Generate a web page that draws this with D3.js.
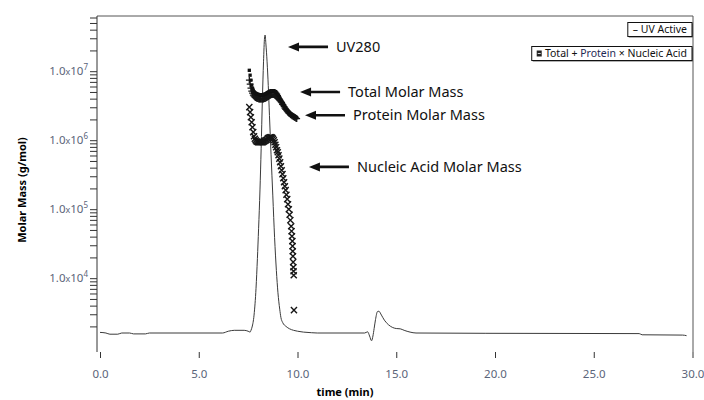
<!DOCTYPE html>
<html>
<head>
<meta charset="utf-8">
<script src="https://cdn.jsdelivr.net/npm/d3@7"></script>
<style>
    body { margin: 0; background: #fff; }
    svg { display: block; font-family: "Noto Sans", "Open Sans", sans-serif; }
</style>
</head>
<body>
<svg id="chart" width="704" height="400"></svg>
<script>
// UV trace (arbitrary units, 100 = top of the UV280 peak)
const uvTime = [0.0, 0.3, 0.5, 0.9, 1.1, 1.5, 1.7, 2.3, 2.5, 6.2, 6.5, 6.8, 7.3, 7.5, 7.6, 7.65,
    7.7, 7.8, 7.9, 7.97, 8.03, 8.1, 8.16, 8.22, 8.28, 8.33, 8.36, 8.4, 8.46, 8.52, 8.58, 8.66,
    8.75, 8.84, 8.93, 9.01, 9.1, 9.16, 9.25, 9.42, 9.6, 9.8, 10.0, 10.3, 10.7, 11.0, 13.4, 13.55,
    13.65, 13.75, 13.82, 13.88, 13.95, 14.05, 14.12, 14.25, 14.4, 14.6, 14.8, 15.0, 15.2, 15.4,
    15.7, 16.0, 19.5, 27.3, 27.45, 29.5, 29.7];
const uvSignal = [0.2, 0.0, -0.4, -0.4, 0.0, 0.0, -0.3, -0.3, 0.0, 0.0, 0.6, 0.9, 0.9, 0.6, 0.3, 1.0,
    2, 6, 15, 25, 35, 48, 62, 78, 91, 99, 100, 97, 91, 83, 73, 60,
    46, 32, 21, 13.5, 8, 5.2, 3.5, 2.2, 1.4, 0.9, 0.6, 0.3, 0.1, 0.0, 0.0, 0.4,
    -1.0, -2.6, -1.0, 1.5, 4.5, 7.2, 7.3, 6.0, 4.3, 2.8, 1.9, 1.5, 1.4, 0.9,
    0.3, 0.0, -0.1, -0.2, -0.6, -0.7, -0.9];

// molar mass slices (min)
const massTime = [7.56, 7.60, 7.64, 7.68, 7.72, 7.76, 7.80, 7.84, 7.88, 7.92, 7.96, 8.00,
    8.04, 8.08, 8.12, 8.16, 8.20, 8.24, 8.28, 8.32, 8.36, 8.40, 8.44, 8.48, 8.52, 8.56, 8.60,
    8.64, 8.68, 8.72, 8.76, 8.80, 8.84, 8.88, 8.92, 8.96, 9.00, 9.04, 9.08, 9.12, 9.16, 9.20,
    9.24, 9.28, 9.32, 9.36, 9.40, 9.44, 9.48, 9.52, 9.56, 9.60, 9.64, 9.68, 9.72, 9.76, 9.80,
    9.84, 9.88, 9.92, 9.96];
// g/mol
const totalMass = [1.03e7, 8.75e6, 7.41e6, 6.27e6, 5.67e6, 5.30e6, 5.05e6, 4.88e6, 4.80e6, 4.72e6, 4.64e6, 4.64e6,
    4.56e6, 4.56e6, 4.56e6, 4.56e6, 4.56e6, 4.56e6, 4.56e6, 4.64e6, 4.64e6, 4.72e6, 4.80e6, 4.88e6, 4.96e6, 5.05e6, 5.13e6,
    5.13e6, 5.22e6, 5.22e6, 5.22e6, 5.22e6, 5.13e6, 5.05e6, 4.96e6, 4.80e6, 4.64e6, 4.49e6, 4.27e6, 4.06e6, 3.86e6, 3.67e6,
    3.50e6, 3.32e6, 3.16e6, 3.01e6, 2.91e6, 2.81e6, 2.72e6, 2.63e6, 2.55e6, 2.50e6, 2.42e6, 2.38e6, 2.34e6, 2.30e6, 2.26e6,
    2.23e6, 2.19e6, 2.15e6, 2.12e6];
const proteinMass = [7.41e6, 6.48e6, 5.67e6, 5.13e6, 4.80e6, 4.49e6, 4.34e6, 4.20e6, 4.13e6, 4.06e6, 3.99e6, 3.99e6,
    3.93e6, 3.93e6, 3.93e6, 3.93e6, 3.93e6, 3.93e6, 3.93e6, 3.99e6, 3.99e6, 4.06e6, 4.13e6, 4.20e6, 4.27e6, 4.34e6, 4.41e6,
    4.49e6, 4.56e6, 4.56e6, 4.56e6, 4.56e6, 4.49e6, 4.41e6, 4.34e6, 4.20e6, 4.13e6, 3.99e6, 3.86e6, 3.74e6, 3.61e6, 3.50e6,
    3.32e6, 3.22e6, 3.06e6, 2.91e6, 2.81e6, 2.72e6, 2.63e6, 2.55e6, 2.46e6, 2.42e6, 2.34e6, 2.30e6, 2.26e6, 2.23e6, 2.19e6,
    2.15e6, 2.12e6, 2.08e6, 2.05e6];

const nucleicTime = [7.56, 7.60, 7.64, 7.68, 7.72, 7.76, 7.80, 7.84, 7.88, 7.92, 7.96, 8.00,
    8.04, 8.08, 8.12, 8.16, 8.20, 8.24, 8.28, 8.32, 8.36, 8.40, 8.44, 8.48, 8.52, 8.56, 8.60,
    8.64, 8.68, 8.72, 8.76, 8.80, 8.84, 8.88, 8.92, 8.96, 9.00, 9.04, 9.08, 9.12, 9.16, 9.20,
    9.24, 9.28, 9.32, 9.36, 9.40, 9.44, 9.48, 9.52, 9.56, 9.60, 9.64, 9.68, 9.70, 9.72, 9.74,
    9.75, 9.76, 9.77, 9.78, 9.79, 9.80, 9.81, 9.82];
const nucleicMass = [3.01e6, 2.55e6, 2.15e6, 1.82e6, 1.54e6, 1.31e6, 1.14e6, 1.05e6, 1.0e6, 9.67e5, 9.51e5, 9.35e5,
    9.35e5, 9.35e5, 9.35e5, 9.35e5, 9.35e5, 9.35e5, 9.51e5, 9.67e5, 9.83e5, 1.0e6, 1.017e6, 1.05e6, 1.07e6, 1.087e6, 1.105e6,
    1.105e6, 1.105e6, 1.087e6, 1.05e6, 1.0e6, 9.35e5, 8.60e5, 7.92e5, 7.16e5, 6.70e5, 6.06e5, 5.40e5, 4.80e5, 4.20e5, 3.67e5,
    3.22e5, 2.81e5, 2.46e5, 2.15e5, 1.89e5, 1.62e5, 1.40e5, 1.18e5, 1.0e5, 8.32e4, 6.93e4, 5.67e4, 4.80e4, 4.06e4, 3.44e4,
    2.91e4, 2.46e4, 2.08e4, 1.71e4, 1.44e4, 1.26e4, 1.105e4, 3.44e3];

const xTicks = [0, 5, 10, 15, 20, 25, 30];
const yLabelExponents = [4, 5, 6, 7];

const annotations = [
    { text: "UV280", time: 9.52, mass: 2.25e7 },
    { text: "Total Molar Mass", time: 10.13, mass: 5.0e6 },
    { text: "Protein Molar Mass", time: 10.38, mass: 2.3e6 },
    { text: "Nucleic Acid Molar Mass", time: 10.58, mass: 4.1e5 }
];

const svg = d3.select("#chart");
const frame = { left: 97, right: 693, top: 16, bottom: 352 };
const tickColor = "#5b6479";

const x = d3.scaleLinear().domain([0, 30]).range([100, 692.5]);
const y = d3.scaleLog().domain([Math.pow(10, 2.93), Math.pow(10, 7.8)]).range([frame.bottom, frame.top]);
const uvY = d3.scaleLinear().domain([0, 100]).range([333, 35]);

// plot frame: top and right edges
svg.append("path")
    .attr("d", `M${frame.left},${frame.top}H${frame.right}V${frame.bottom}`)
    .attr("fill", "none")
    .attr("stroke", "#555")
    .attr("stroke-width", 1);

// y axis
const yTickValues = y.ticks().filter((v) => v >= 2e3);
const yAxis = d3.axisLeft(y).tickValues(yTickValues).tickSize(7).tickFormat("");
const yAxisG = svg.append("g").attr("transform", `translate(${frame.left},0)`).call(yAxis);
yAxisG.select(".domain").attr("stroke", "#333").attr("d", `M0,${frame.top}V${frame.bottom}`);
yAxisG.selectAll(".tick line").attr("stroke", "#333");

yLabelExponents.forEach((e) => {
    const t = svg.append("text")
        .attr("x", 88)
        .attr("y", y(Math.pow(10, e)) + 4)
        .attr("text-anchor", "end")
        .attr("fill", tickColor)
        .attr("font-size", 11.5);
    t.append("tspan").text("1.0");
    t.append("tspan").attr("font-size", 9).text("x");
    t.append("tspan").text("10");
    t.append("tspan").attr("font-size", 8).attr("dy", -5).text(e);
});

// x axis (no baseline, only ticks)
const xAxisG = svg.append("g").attr("transform", `translate(0,${frame.bottom})`);
xAxisG.call(d3.axisBottom(x).tickValues(d3.range(0, 31)).tickSize(3.5).tickFormat(""));
xAxisG.call(d3.axisBottom(x).tickValues(xTicks).tickSize(6).tickFormat((d) => d.toFixed(1)));
xAxisG.selectAll(".domain").remove();
xAxisG.selectAll(".tick line").attr("stroke", "#333");
xAxisG.selectAll(".tick text")
    .attr("fill", tickColor)
    .attr("font-size", 11.5)
    .attr("dy", "1.5em")
    .attr("font-family", "Noto Sans, sans-serif");

// axis titles
svg.append("text")
    .attr("transform", `translate(26,${(frame.top + frame.bottom) / 2 + 6}) rotate(-90)`)
    .attr("text-anchor", "middle")
    .attr("font-size", 11)
    .attr("font-weight", "bold")
    .text("Molar Mass (g/mol)");

svg.append("text")
    .attr("x", 345)
    .attr("y", 396)
    .attr("text-anchor", "middle")
    .attr("font-size", 11)
    .attr("font-weight", "bold")
    .text("time (min)");

// UV trace
const uvLine = d3.line()
    .x((d, i) => x(uvTime[i]))
    .y((d) => uvY(d))
    .curve(d3.curveMonotoneX);

svg.append("path")
    .datum(uvSignal)
    .attr("d", uvLine)
    .attr("fill", "none")
    .attr("stroke", "#3a3a3a")
    .attr("stroke-width", 1);

// molar mass markers
const plusType = d3.symbolPlus || d3.symbolCross;
const timesType = d3.symbolTimes || d3.symbolX || d3.symbolCross;

const markers = svg.append("g");

markers.append("g").selectAll("path")
    .data(nucleicMass)
    .join("path")
    .attr("transform", (d, i) => `translate(${x(nucleicTime[i])},${y(d)})`)
    .attr("d", d3.symbol(timesType, 26))
    .attr("fill", "none")
    .attr("stroke", "#161616")
    .attr("stroke-width", 1.4);

markers.append("g").selectAll("path")
    .data(proteinMass)
    .join("path")
    .attr("transform", (d, i) => `translate(${x(massTime[i])},${y(d)})`)
    .attr("d", d3.symbol(plusType, 17))
    .attr("fill", "none")
    .attr("stroke", "#161616")
    .attr("stroke-width", 1.3);

markers.append("g").selectAll("path")
    .data(totalMass)
    .join("path")
    .attr("transform", (d, i) => `translate(${x(massTime[i])},${y(d)})`)
    .attr("d", d3.symbol(d3.symbolSquare, 11))
    .attr("fill", "#111");

// annotation arrows
const ann = svg.append("g").attr("font-size", 14.5).attr("fill", "#111");
annotations.forEach((a) => {
    const hx = x(a.time), hy = y(a.mass);
    ann.append("line")
        .attr("x1", hx + 8).attr("y1", hy)
        .attr("x2", hx + 40).attr("y2", hy)
        .attr("stroke", "#111")
        .attr("stroke-width", 2.6);
    ann.append("path")
        .attr("d", `M${hx},${hy}L${hx + 11},${hy - 4.5}L${hx + 11},${hy + 4.5}Z`)
        .attr("fill", "#111");
    ann.append("text")
        .attr("x", hx + 48)
        .attr("y", hy + 5)
        .text(a.text);
});

// legends
function legendBox(yTop, parts) {
    const g = svg.append("g");
    const txt = g.append("text")
        .attr("y", yTop + 10.8)
        .attr("font-size", 10.5)
        .attr("fill", "#111");
    parts.forEach((p) => txt.append("tspan").attr("fill", p.color || "#111").text(p.text));
    const w = txt.node().getComputedTextLength();
    const boxW = w + 10;
    const left = 692 - boxW;
    txt.attr("x", left + 5);
    g.insert("rect", "text")
        .attr("x", left + 1).attr("y", yTop + 1)
        .attr("width", boxW).attr("height", 14)
        .attr("fill", "#666");
    g.insert("rect", "text")
        .attr("x", left).attr("y", yTop)
        .attr("width", boxW).attr("height", 14)
        .attr("fill", "#fff")
        .attr("stroke", "#111")
        .attr("stroke-width", 1);
    return { g, left };
}

legendBox(22.5, [{ text: "\u2013 UV Active" }]);
const lg = legendBox(46.5, [
    { text: "\u00a0\u00a0 Total + " },
    { text: "Protein", color: "#1f2a55" },
    { text: " \u00d7 Nucleic Acid" }
]);
lg.g.append("rect")
    .attr("x", lg.left + 5).attr("y", 50.5)
    .attr("width", 5).attr("height", 6)
    .attr("fill", "#222");
lg.g.append("line")
    .attr("x1", lg.left + 6).attr("x2", lg.left + 9)
    .attr("y1", 53.5).attr("y2", 53.5)
    .attr("stroke", "#fff").attr("stroke-width", 0.8);
</script>
</body>
</html>
